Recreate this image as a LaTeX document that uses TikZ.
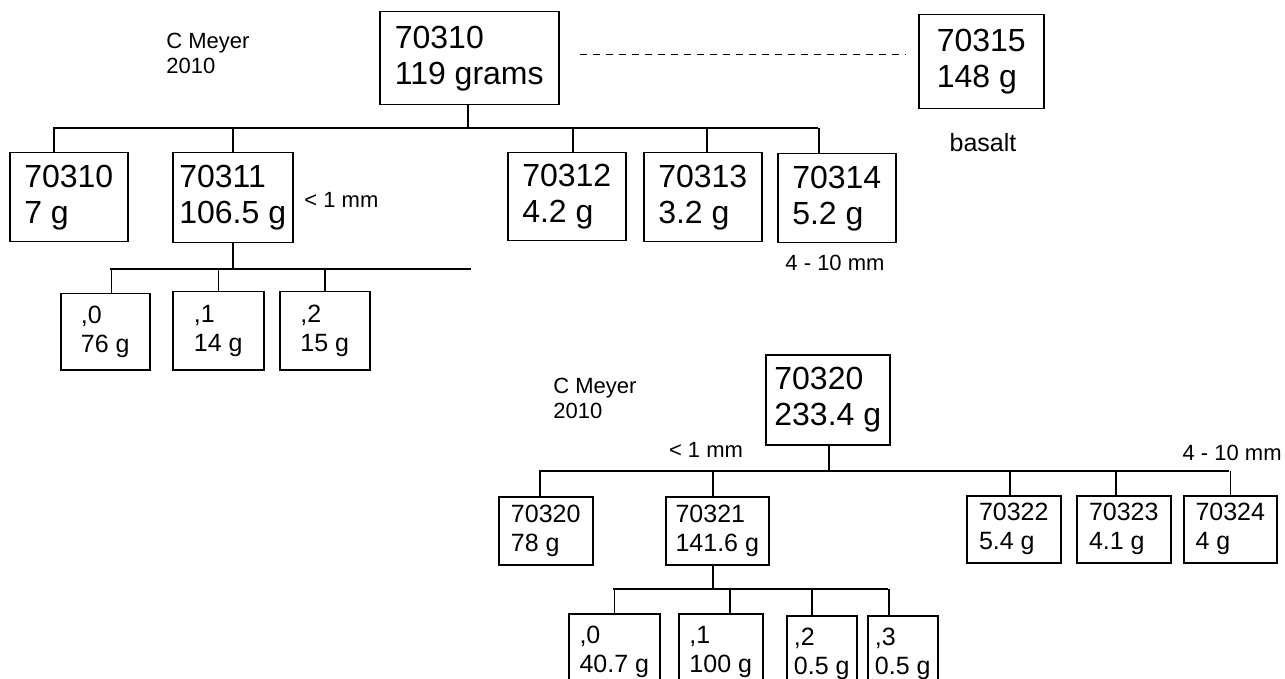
\documentclass[tikz,border=0pt]{standalone}
\usepackage{fontspec}
\setmainfont{Liberation Sans}
\usetikzlibrary{positioning}

\tikzset{
    sample/.style={rectangle, draw, line width=0.75pt, align=left, inner sep=2pt, anchor=north west},
    bigtxt/.style={font=\fontsize{16}{18}\selectfont},
    smalltxt/.style={font=\fontsize{12.5}{14.5}\selectfont},
    boxsize/.style 2 args={minimum width=#1*0.5pt, minimum height=#2*0.5pt},
    note/.style={font=\fontsize{11}{12.5}\selectfont, inner sep=0pt},
    link/.style={line width=0.75pt}
}

\begin{document}
\begin{tikzpicture}[x=0.5pt, y=-0.5pt]
\useasboundingbox (0,0) rectangle (1285,679);
\clip (0,0) rectangle (1285,679);

% first split
\node[note, anchor=north west, align=left] (author1) at (166,33) {C Meyer\\2010};
\node[sample, bigtxt, boxsize={179}{93}] (top) at (379,11) {70310\\119 grams};
\node[sample, bigtxt, boxsize={125}{94}] (s15) at (918,14) {70315\\148 g};
\node[font=\fontsize{12.5}{14}\selectfont, inner sep=0pt] (rock) at (983,143) {basalt};
\draw[link, dash pattern=on 3.5pt off 3pt] ([shift={(20,-3.5)}]top.east) -- ([shift={(-13,-3.5)}]top.east -| s15.west);

\node[sample, bigtxt, boxsize={118}{89}] (c10) at (9,152) {70310\\7 g};
\node[sample, bigtxt, boxsize={120}{90}] (c11) at (172,152) {70311\\106.5 g};
\node[sample, bigtxt, boxsize={118}{88}] (c12) at (507,152) {70312\\4.2 g};
\node[sample, bigtxt, boxsize={118}{89}] (c13) at (643,152) {70313\\3.2 g};
\node[sample, bigtxt, boxsize={118}{89}] (c14) at (777,153) {70314\\5.2 g};
\node[note, anchor=west] (fine1) at (304,200) {< 1 mm};
\node[note] (coarse1) at (835,263) {4 - 10 mm};

\coordinate (bus1) at (53,128);
\coordinate (bus1r) at (818,128);
\draw[link] (bus1) -- (bus1r);
\draw[link] ([shift={(-1.5,0)}]top.south) -- ([shift={(-1.5,0)}]top.south |- bus1);
\foreach \n/\dx in {c10/-15, c11/0, c12/6, c13/4, c14/-18}
    \draw[link] ([shift={(\dx,0)}]\n.north) -- ([shift={(\dx,0)}]\n.north |- bus1);

\node[sample, smalltxt, boxsize={89}{76}] (d0) at (60,293) {,0\\76 g};
\node[sample, smalltxt, boxsize={91}{78}] (d1) at (172,291) {,1\\14 g};
\node[sample, smalltxt, boxsize={90}{78}] (d2) at (279,291) {,2\\15 g};

\coordinate (bus11) at (110,269);
\coordinate (bus11r) at (471,269);
\draw[link] (bus11) -- (bus11r);
\draw[link] (c11.south) -- (c11.south |- bus11);
\foreach \n/\dx in {d0/6, d1/0, d2/0}
    \draw[link] ([shift={(\dx,0)}]\n.north) -- ([shift={(\dx,0)}]\n.north |- bus11);

% second split
\node[note, anchor=north west, align=left] (author2) at (553,378) {C Meyer\\2010};
\node[sample, bigtxt, boxsize={124}{90}] (root2) at (765,354) {70320\\233.4 g};
\node[note] (fine2) at (706,450) {< 1 mm};
\node[note, anchor=east] (coarse2) at (1282,453) {4 - 10 mm};

\node[sample, smalltxt, boxsize={94}{68}] (e20) at (498,496) {70320\\78 g};
\node[sample, smalltxt, boxsize={103}{68}] (e21) at (665,496) {70321\\141.6 g};
\node[sample, smalltxt, boxsize={94}{67}] (e22) at (966,495) {70322\\5.4 g};
\node[sample, smalltxt, boxsize={94}{67}] (e23) at (1076,495) {70323\\4.1 g};
\node[sample, smalltxt, boxsize={93}{67}] (e24) at (1183,495) {70324\\4 g};

\coordinate (bus2) at (539,471);
\coordinate (bus2r) at (1229,471);
\draw[link] (bus2) -- (bus2r);
\draw[link] ([shift={(1,0)}]root2.south) -- ([shift={(1,0)}]root2.south |- bus2);
\foreach \n/\dx in {e20/-6, e21/-4.5, e22/-4, e23/-8, e24/0}
    \draw[link] ([shift={(\dx,0)}]\n.north) -- ([shift={(\dx,0)}]\n.north |- bus2);

\node[sample, smalltxt, boxsize={91}{76}] (f0) at (568,613) {,0\\40.7 g};
\node[sample, smalltxt, boxsize={84}{76}] (f1) at (678,613) {,1\\100 g};
\node[sample, smalltxt, boxsize={70}{76}] (f2) at (786,615) {,2\\0.5 g};
\node[sample, smalltxt, boxsize={70}{76}] (f3) at (867,615) {,3\\0.5 g};

\coordinate (bus21) at (613,589);
\coordinate (bus21r) at (888,589);
\draw[link] (bus21) -- (bus21r);
\draw[link] ([shift={(-4.5,0)}]e21.south) -- ([shift={(-4.5,0)}]e21.south |- bus21);
\foreach \n/\dx in {f0/0, f1/9, f2/-10, f3/-14}
    \draw[link] ([shift={(\dx,0)}]\n.north) -- ([shift={(\dx,0)}]\n.north |- bus21);

\end{tikzpicture}
\end{document}
